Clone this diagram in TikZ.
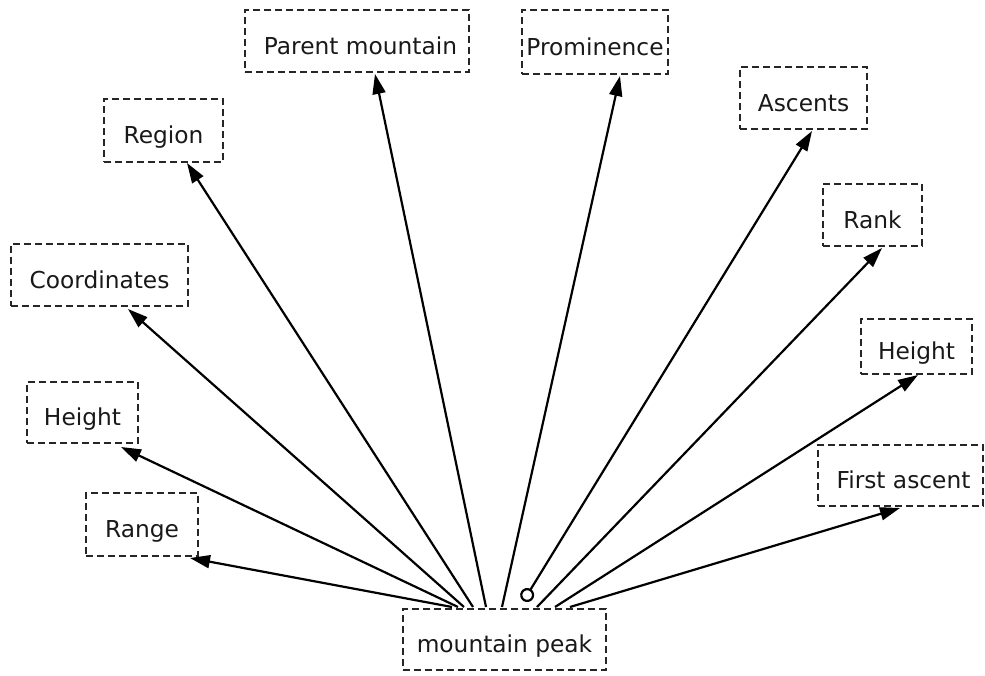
\documentclass[tikz,border=0pt]{standalone}
\usepackage{fontspec}
\setmainfont{DejaVu Sans}
\usetikzlibrary{arrows.meta}
\begin{document}
\begin{tikzpicture}[x=1pt,y=-1pt,
  lbl/.style={draw=black!85, dashed, dash pattern=on 7pt off 4pt, line width=2pt,
    text=black!90, font=\fontsize{23.3}{27}\selectfont, inner sep=0pt, anchor=north west,
    text height=28pt, text depth=2pt},
  conn/.style={line width=2.2pt, -{Triangle[length=20pt,width=13pt]}}]
\useasboundingbox (0,0) rectangle (985,675);
\newcommand{\bx}[6]{\node[lbl, minimum width=#4-#2, minimum height=#5-#3] (#1) at (#2,#3) {#6};}
\bx{parent}{244}{9}{468}{71}{\hspace*{7pt}Parent mountain}
\bx{prom}{521}{9}{667}{73}{Prominence}
\bx{region}{103}{98}{222}{161}{Region}
\bx{asc}{739}{66}{866}{128}{Ascents}
\bx{coord}{10}{243}{187}{305}{Coordinates}
\bx{rank}{822}{183}{921}{245}{Rank}
\bx{hr}{860}{318}{971}{373}{Height}
\bx{hl}{26}{381}{137}{442}{Height}
\bx{first}{817}{444}{982}{505}{\hspace*{6pt}First ascent}
\bx{range}{85}{492}{197}{555}{Range}
\bx{peak}{402}{608}{605}{669}{mountain peak}
% start points on the peak box
\coordinate (s1) at (452,607);
\coordinate (s2) at (458,607);
\coordinate (s3) at (464,607);
\coordinate (s4) at (473,607);
\coordinate (s5) at (486,607);
\coordinate (s6) at (502,607);
\coordinate (s7) at (523.5,601);
\coordinate (s8) at (537,607);
\coordinate (s9) at (555,607);
\coordinate (s10) at (570,607);
% tips
\coordinate (t1) at (190,558);
\coordinate (t2) at (121,447);
\coordinate (t3) at (128,309);
\coordinate (t4) at (187,163);
\coordinate (t5) at (375,74);
\coordinate (t6) at (620,76);
\coordinate (t7) at (812,131);
\coordinate (t8) at (882,248);
\coordinate (t9) at (918,375);
\coordinate (t10) at (900,508);
\draw[conn] (s1) -- (t1);
\draw[conn] (s2) -- (t2);
\draw[conn] (s3) -- (t3);
\draw[conn] (s4) -- (t4);
\draw[conn] (s5) -- (t5);
\draw[conn] (s6) -- (t6);
\draw[conn, {Circle[open,length=14pt,width=14pt]}-{Triangle[length=20pt,width=13pt]}] (s7) -- (t7);
\draw[conn] (s8) -- (t8);
\draw[conn] (s9) -- (t9);
\draw[conn] (s10) -- (t10);
\end{tikzpicture}
\end{document}
